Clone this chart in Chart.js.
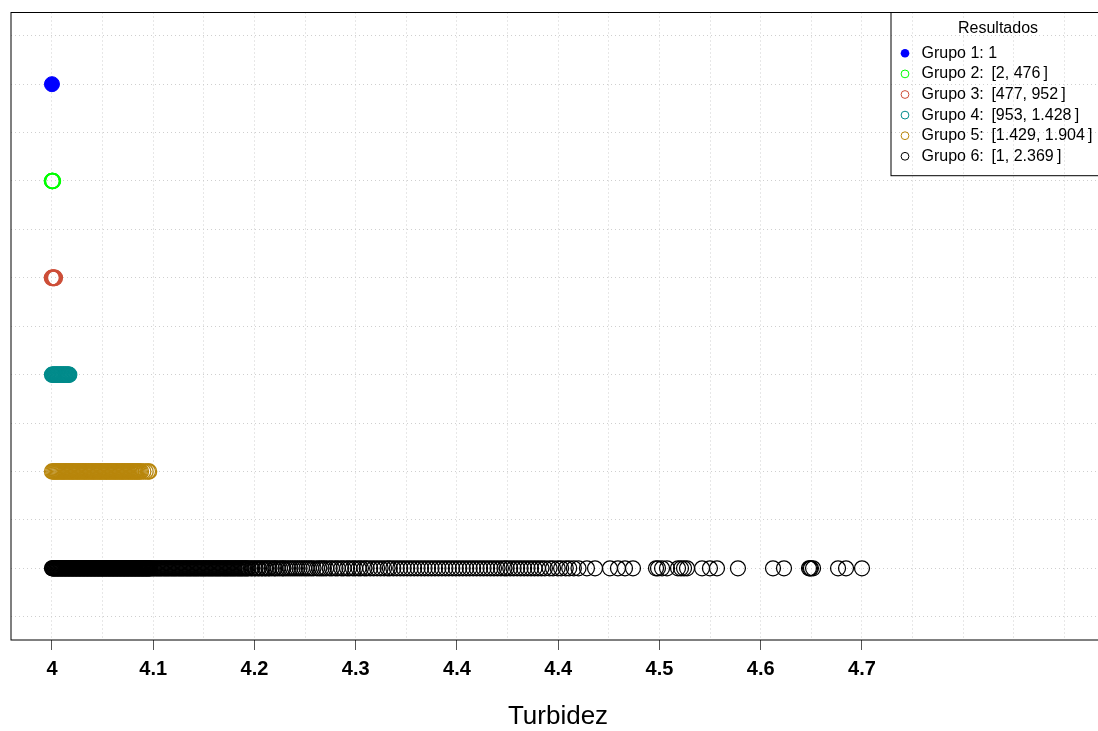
<!DOCTYPE html>
<html>
<head>
<meta charset="utf-8">
<script src="https://cdn.jsdelivr.net/npm/chart.js@4.4.1/dist/chart.umd.min.js"></script>
<style>
  html, body { margin: 0; padding: 0; background: #ffffff; overflow: hidden; }
  #chart { display: block; }
</style>
</head>
<body>
<canvas id="chart" width="1098" height="731"></canvas>
<script>
// Group names, colours and the row each group sits on (top row = Grupo 1)
const groupLabels = [
  'Grupo 1: 1',
  'Grupo 2: \u2009[2, 476\u2009]',
  'Grupo 3: \u2009[477, 952\u2009]',
  'Grupo 4: \u2009[953, 1.428\u2009]',
  'Grupo 5: \u2009[1.429, 1.904\u2009]',
  'Grupo 6: \u2009[1, 2.369\u2009]'
];
const groupColors = ['#0000ff', '#00ff00', '#cd4f39', '#008b8b', '#b8860b', '#000000'];
const groupRows = [6, 5, 4, 3, 2, 1];

// Turbidez readings per group
const grupo1 = [4.000];
const grupo2 = [4.0000, 4.0002, 4.0004, 4.0006, 4.0008];
const grupo3 = [4.0000, 4.0005, 4.0010, 4.0015, 4.0020, 4.0025];
const grupo4 = [4.0000, 4.0005, 4.0010, 4.0015, 4.0020, 4.0025, 4.0030, 4.0035, 4.0040, 4.0045,
                4.0050, 4.0055, 4.0060, 4.0065, 4.0070, 4.0075, 4.0080, 4.0085, 4.0090, 4.0095,
                4.0100, 4.0105, 4.0110, 4.0115, 4.0120, 4.0125, 4.0130, 4.0135, 4.0140, 4.0145,
                4.0150];
const grupo5 = [4.000, 4.001, 4.002, 4.003, 4.004, 4.005, 4.006, 4.007, 4.008, 4.009,
                4.010, 4.011, 4.012, 4.013, 4.014, 4.015, 4.016, 4.017, 4.018, 4.019,
                4.020, 4.021, 4.022, 4.023, 4.024, 4.025, 4.026, 4.027, 4.028, 4.029,
                4.030, 4.031, 4.032, 4.033, 4.034, 4.035, 4.036, 4.037, 4.038, 4.039,
                4.040, 4.041, 4.042, 4.043, 4.044, 4.045, 4.046, 4.047, 4.048, 4.049,
                4.050, 4.051, 4.052, 4.053, 4.054, 4.055, 4.056, 4.057, 4.058, 4.059,
                4.060, 4.061, 4.062, 4.063, 4.064, 4.065, 4.066, 4.067, 4.068, 4.069,
                4.070, 4.071, 4.072, 4.073, 4.074, 4.075, 4.076, 4.077, 4.079, 4.081,
                4.083, 4.084];
const grupo6 = [
  4.0000, 4.0005, 4.0010, 4.0015, 4.0020, 4.0025, 4.0030, 4.0035, 4.0040, 4.0045,
  4.0050, 4.0055, 4.0060, 4.0065, 4.0070, 4.0075, 4.0080, 4.0085, 4.0090, 4.0095,
  4.0100, 4.0105, 4.0110, 4.0115, 4.0120, 4.0125, 4.0130, 4.0135, 4.0140, 4.0145,
  4.0150, 4.0155, 4.0160, 4.0165, 4.0170, 4.0175, 4.0180, 4.0185, 4.0190, 4.0195,
  4.0200, 4.0205, 4.0210, 4.0215, 4.0220, 4.0225, 4.0230, 4.0235, 4.0240, 4.0245,
  4.0250, 4.0255, 4.0260, 4.0265, 4.0270, 4.0275, 4.0280, 4.0285, 4.0290, 4.0295,
  4.0300, 4.0305, 4.0310, 4.0315, 4.0320, 4.0325, 4.0330, 4.0335, 4.0340, 4.0345,
  4.0350, 4.0355, 4.0360, 4.0365, 4.0370, 4.0375, 4.0380, 4.0385, 4.0390, 4.0395,
  4.0400, 4.0405, 4.0410, 4.0415, 4.0420, 4.0425, 4.0430, 4.0435, 4.0440, 4.0445,
  4.0450, 4.0455, 4.0460, 4.0465, 4.0470, 4.0475, 4.0480, 4.0485, 4.0490, 4.0495,
  4.0500, 4.0505, 4.0510, 4.0515, 4.0520, 4.0525, 4.0530, 4.0535, 4.0540, 4.0545,
  4.0550, 4.0555, 4.0560, 4.0565, 4.0570, 4.0575, 4.0580, 4.0585, 4.0590, 4.0595,
  4.0600, 4.0605, 4.0610, 4.0615, 4.0620, 4.0625, 4.0630, 4.0635, 4.0640, 4.0645,
  4.0650, 4.0655, 4.0660, 4.0665, 4.0670, 4.0675, 4.0680, 4.0685, 4.0690, 4.0695,
  4.0700, 4.0705, 4.0710, 4.0715, 4.0720, 4.0725, 4.0730, 4.0735, 4.0740, 4.0745,
  4.0750, 4.0755, 4.0760, 4.0765, 4.0770, 4.0775, 4.0780, 4.0785, 4.0790, 4.0795,
  4.0800, 4.0805, 4.0810, 4.0815, 4.0820, 4.0825, 4.0830, 4.0835, 4.0840, 4.0845,
  4.0850,
  4.086, 4.087, 4.088, 4.089, 4.090, 4.091, 4.092, 4.093, 4.094, 4.095,
  4.096, 4.097, 4.098, 4.099, 4.100, 4.101, 4.102, 4.103, 4.104, 4.105,
  4.106, 4.107, 4.108, 4.109, 4.110, 4.111, 4.112, 4.113, 4.114, 4.115,
  4.116, 4.117, 4.118, 4.119, 4.120, 4.121, 4.122, 4.123, 4.124, 4.125,
  4.126, 4.127, 4.128, 4.129, 4.130, 4.131, 4.132, 4.133, 4.134, 4.135,
  4.136, 4.137, 4.138, 4.139, 4.140, 4.141, 4.142, 4.143, 4.144, 4.145,
  4.146, 4.147, 4.148, 4.149, 4.150, 4.151, 4.152, 4.153, 4.154, 4.155,
  4.156, 4.157, 4.158, 4.159, 4.160, 4.161, 4.162, 4.163, 4.164, 4.165,
  4.166, 4.167, 4.168, 4.169, 4.170, 4.172, 4.173, 4.175, 4.176, 4.178,
  4.179, 4.181, 4.182, 4.184, 4.185, 4.187, 4.188, 4.190, 4.192, 4.193,
  4.195, 4.197, 4.199, 4.200, 4.202, 4.204, 4.206, 4.208, 4.210, 4.212,
  4.214, 4.216, 4.218, 4.220, 4.222, 4.224, 4.226, 4.229, 4.231, 4.233,
  4.235, 4.237, 4.240, 4.242, 4.245, 4.247, 4.250, 4.252, 4.255, 4.257,
  4.260, 4.262, 4.265, 4.267, 4.270, 4.272, 4.275, 4.278, 4.281, 4.284,
  4.287, 4.290, 4.292, 4.295, 4.298, 4.301, 4.304, 4.307, 4.310, 4.313,
  4.316, 4.319, 4.322, 4.325, 4.328, 4.331, 4.334, 4.337, 4.340, 4.343,
  4.346, 4.349, 4.352, 4.355, 4.358, 4.361, 4.364, 4.367, 4.370,
  4.373, 4.376, 4.379, 4.382, 4.385, 4.388, 4.391, 4.393, 4.396, 4.399,
  4.402, 4.405, 4.408, 4.411, 4.414, 4.417, 4.420, 4.423, 4.426, 4.430,
  4.433, 4.437, 4.440, 4.444, 4.447, 4.451, 4.455,
  4.4623, 4.4693, 4.4822, 4.4891, 4.4952, 4.5021,
  4.5220, 4.5237, 4.5272, 4.5315, 4.5410, 4.5436, 4.5462, 4.5488,
  4.5618, 4.5686, 4.5747, 4.5928, 4.6231, 4.6326,
  4.6542, 4.6551, 4.6559, 4.6577, 4.6793, 4.6862, 4.7000
];
const groupValues = [grupo1, grupo2, grupo3, grupo4, grupo5, grupo6];

// Axis ticks along Turbidez and their printed labels
const xTickValues = [4, 4.0875, 4.175, 4.2625, 4.35, 4.4375, 4.525, 4.6125, 4.7];
const xTickLabels = ['4', '4.1', '4.2', '4.3', '4.4', '4.4', '4.5', '4.6', '4.7'];
const yGridValues = [0.5, 1, 1.5, 2, 2.5, 3, 3.5, 4, 4.5, 5, 5.5, 6, 6.5];

// Vertical grid: every tick plus the half-steps between and beyond them
const xStep = (xTickValues[1] - xTickValues[0]) / 2;
const xGridValues = [];
for (let v = xTickValues[0]; v <= 4.9; v += xStep) xGridValues.push(+v.toFixed(6));

function labelFor(value) {
  const i = xTickValues.findIndex(t => Math.abs(t - value) < 1e-6);
  return i >= 0 ? xTickLabels[i] : '';
}

const FONT = '"Liberation Sans", Arial, Helvetica, sans-serif';
const ringWidths = [1, 1.6, 1.6, 1.2, 1.3, 1.25];
// The plot region runs a few pixels past the canvas' right edge
const PLOT_RIGHT = 1105;

const datasets = groupValues.map((vals, g) => ({
  label: groupLabels[g],
  data: vals.map(v => ({ x: v, y: groupRows[g] })),
  pointRadius: 7.5,
  pointHoverRadius: 7.5,
  pointBorderWidth: ringWidths[g],
  pointBorderColor: groupColors[g],
  pointBackgroundColor: g === 0 ? groupColors[g] : 'rgba(0,0,0,0)',
  showLine: false
}));

// Plot frame, axis title and the boxed legend in the top-right corner
const frameAndLegend = {
  id: 'frameAndLegend',
  afterDraw(chart) {
    const { ctx, chartArea: a } = chart;
    ctx.save();
    ctx.strokeStyle = '#000';
    ctx.lineWidth = 1;
    ctx.strokeRect(a.left, a.top, PLOT_RIGHT - a.left, a.bottom - a.top);

    ctx.fillStyle = '#000';
    ctx.font = '26px ' + FONT;
    ctx.textAlign = 'center';
    ctx.textBaseline = 'middle';
    ctx.fillText('Turbidez', (a.left + PLOT_RIGHT) / 2, 717);

    const x0 = 891, y0 = a.top, x1 = PLOT_RIGHT, y1 = 175.7;
    ctx.strokeRect(x0, y0, x1 - x0, y1 - y0);
    ctx.font = '16px ' + FONT;
    ctx.fillText('Resultados', (x0 + x1) / 2, 29);
    ctx.textAlign = 'left';
    chart.data.datasets.forEach((ds, i) => {
      const y = 53.3 + i * 20.6;
      ctx.beginPath();
      ctx.arc(905, y, i === 0 ? 4.3 : 3.9, 0, Math.PI * 2);
      if (i === 0) {
        ctx.fillStyle = groupColors[i];
        ctx.fill();
      } else {
        ctx.strokeStyle = groupColors[i];
        ctx.lineWidth = 1;
        ctx.stroke();
      }
      ctx.fillStyle = '#000';
      ctx.fillText(ds.label, 921.5, y);
    });
    ctx.restore();
  }
};

new Chart(document.getElementById('chart'), {
  type: 'scatter',
  data: { datasets },
  plugins: [frameAndLegend],
  options: {
    responsive: false,
    devicePixelRatio: 1,
    animation: false,
    events: [],
    layout: { autoPadding: false, padding: { top: 12.5, right: 0, left: 0, bottom: 0 } },
    plugins: { legend: { display: false }, tooltip: { enabled: false } },
    scales: {
      x: {
        type: 'linear',
        position: 'bottom',
        min: 3.9646,
        max: 4.90395,
        afterBuildTicks(scale) { scale.ticks = xGridValues.map(v => ({ value: v })); },
        afterFit(scale) {
          scale.height = 91;
          scale.paddingLeft = 0;
          scale.paddingRight = 0;
        },
        ticks: {
          autoSkip: false,
          maxRotation: 0,
          minRotation: 0,
          padding: 7,
          color: '#000',
          font: { family: FONT, size: 20, weight: 'bold' },
          callback: (value) => labelFor(value)
        },
        grid: {
          color: '#cfcfcf',
          lineWidth: 1,
          drawTicks: true,
          tickLength: 10,
          tickWidth: 1,
          tickBorderDash: [],
          tickColor: (ctx) => (ctx.tick && labelFor(ctx.tick.value) !== '') ? '#555555' : 'rgba(0,0,0,0)'
        },
        border: { display: false, dash: [1, 3] },
        title: { display: false }
      },
      y: {
        type: 'linear',
        min: 0.26,
        max: 6.74,
        afterBuildTicks(scale) { scale.ticks = yGridValues.map(v => ({ value: v })); },
        afterFit(scale) {
          scale.width = 11;
          scale.paddingTop = 0;
          scale.paddingBottom = 0;
        },
        ticks: { display: false },
        grid: { color: '#cfcfcf', lineWidth: 1, drawTicks: false },
        border: { display: false, dash: [1, 3] }
      }
    }
  }
});
</script>
</body>
</html>
